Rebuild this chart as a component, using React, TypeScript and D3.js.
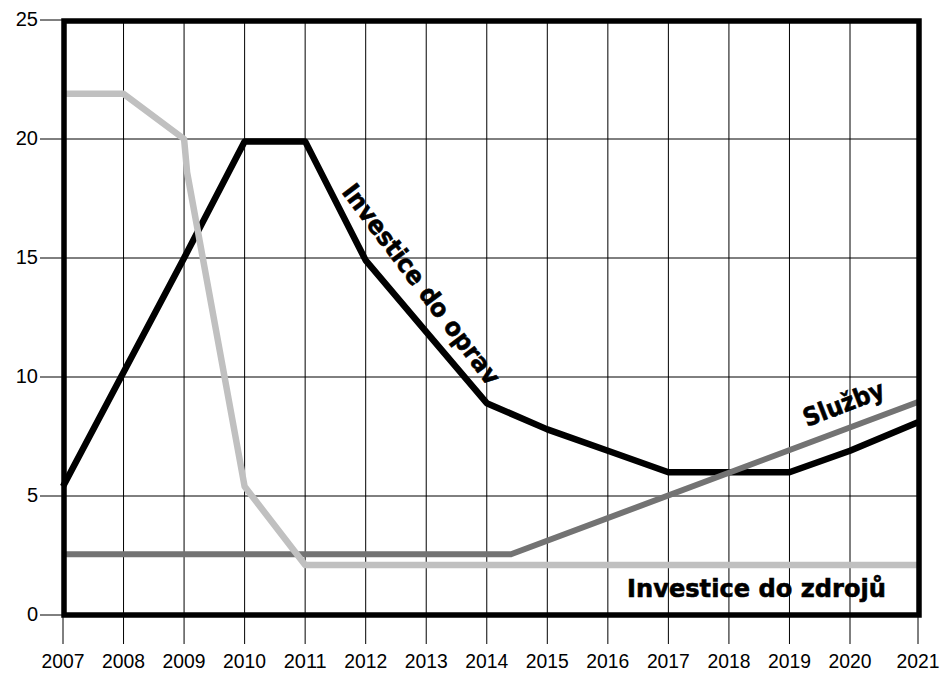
import React from 'react';
import * as d3 from 'd3';

// tick labels
const years = [2007, 2008, 2009, 2010, 2011, 2012, 2013, 2014, 2015, 2016, 2017, 2018, 2019, 2020, 2021];
const yTicks = [0, 5, 10, 15, 20, 25];

// Investice do oprav (one value per year)
const opravy = [5.4, 10.2, 15.0, 19.9, 19.9, 14.9, 11.9, 8.9, 7.8, 6.9, 6.0, 6.0, 6.0, 6.9, 8.1];

// Investice do zdrojů [year, value]
const zdroje: [number, number][] = [
  [2007, 21.9], [2008, 21.9], [2009, 20.0], [2009.05, 18.6], [2010, 5.4], [2011, 2.1], [2021, 2.1],
];

// Služby [year, value]
const sluzby: [number, number][] = [
  [2007, 2.55], [2014.4, 2.55], [2021, 8.95],
];

const W = 952;
const H = 673;
const font = '"Liberation Sans", Arial, sans-serif';
const heavy = '"DejaVu Sans", sans-serif';

export default function App() {
  // the source chart has the last year stretched to the frame
  const x = d3.scaleLinear().domain([2007, 2020, 2021]).range([63, 850, 918]);
  const y = d3.scaleLinear().domain([0, 25]).range([615, 20]);

  const line = d3.line<[number, number]>()
    .x(d => x(d[0]))
    .y(d => y(d[1]));

  const opravyPts: [number, number][] = years.map((yr, i) => [yr, opravy[i]]);

  return (
    <svg width={W} height={H} style={{ position: 'absolute', left: 0, top: 0, background: '#fff' }}>
      {/* grid */}
      {years.map(yr => (
        <line key={'gx' + yr} x1={x(yr)} x2={x(yr)} y1={y(25)} y2={y(0) + 29} stroke="#000" strokeWidth={1} />
      ))}
      {yTicks.map(v => (
        <line key={'gy' + v} x1={40} x2={x(2021)} y1={y(v)} y2={y(v)} stroke="#000" strokeWidth={1} />
      ))}

      {/* axis labels */}
      {yTicks.map(v => (
        <text key={'ly' + v} x={38} y={y(v) + 6} textAnchor="end" fontFamily={font} fontSize={20} fill="#000">{v}</text>
      ))}
      {years.map(yr => (
        <text key={'lx' + yr} x={x(yr)} y={668} textAnchor="middle" fontFamily={font} fontSize={20} fill="#000"
          textLength={43} lengthAdjust="spacingAndGlyphs">{yr}</text>
      ))}

      {/* series */}
      <path d={line(opravyPts) || ''} fill="none" stroke="#000" strokeWidth={6.5} strokeLinejoin="round" />
      <path d={line(sluzby) || ''} fill="none" stroke="#737373" strokeWidth={6} strokeLinejoin="round" />
      <path d={line(zdroje) || ''} fill="none" stroke="#c0c0c0" strokeWidth={6.5} strokeLinejoin="round" />

      {/* frame */}
      <rect x={x(2007) + 1} y={y(25) + 1} width={x(2021) - x(2007)} height={y(0) - y(25) - 1}
        fill="none" stroke="#000" strokeWidth={5.5} />

      {/* annotations */}
      <text transform="translate(341,192) rotate(53)" fontFamily={heavy} fontWeight="bold" fontSize={25}
        stroke="#000" strokeWidth={0.6} fill="#000" textLength={244} lengthAdjust="spacingAndGlyphs">Investice do oprav</text>
      <text transform="translate(807,427) rotate(-21)" fontFamily={heavy} fontWeight="bold" fontSize={25}
        stroke="#000" strokeWidth={0.6} fill="#000" textLength={85} lengthAdjust="spacingAndGlyphs">Služby</text>
      <text x={627} y={597} fontFamily={heavy} fontWeight="bold" fontSize={25}
        stroke="#000" strokeWidth={0.6} fill="#000" textLength={259} lengthAdjust="spacingAndGlyphs">Investice do zdrojů</text>
    </svg>
  );
}
